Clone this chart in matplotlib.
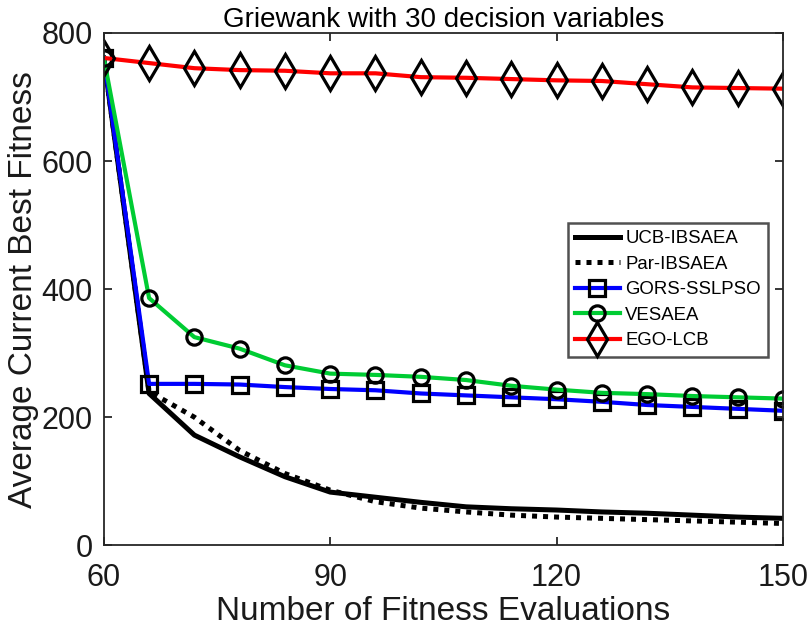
import matplotlib
matplotlib.use("Agg")
from matplotlib import pyplot as plt
import numpy as np

plt.rcParams['font.family'] = ['Liberation Sans', 'DejaVu Sans']

evals = list(range(60, 151, 6))

ucb = [761, 237, 172, 138, 107, 83, 75, 67, 60, 57, 55, 52, 50, 47, 44, 42]
par = [761, 240, 200, 148, 112, 86, 68, 58, 52, 47, 44, 42, 40, 38, 36, 34]
gors = [761, 252, 252, 251, 247, 244, 242, 237, 234, 231, 228, 224, 219, 216, 213, 210]
vesaea = [761, 386, 325, 307, 281, 268, 266, 263, 258, 249, 243, 238, 236, 233, 231, 229]
ego = [761, 753, 745, 742, 741, 737, 737, 731, 730, 728, 726, 725, 720, 715, 714, 713]

edge = '#262626'

fig = plt.figure(figsize=(8.11, 6.34), dpi=100)
ax = fig.add_axes([0.128, 0.140, 0.8375, 0.808])

lw = 3.0
mk = dict(markersize=11, markeredgewidth=2.3, markeredgecolor='black', markerfacecolor='none')
ax.plot(evals, ucb, color='black', lw=3.6, label='UCB-IBSAEA')
ax.plot(evals, par, color='black', lw=3.6, ls=(0, (1, 1.2)), label='Par-IBSAEA')
ax.plot(evals, gors, color='#0000ff', lw=lw, marker='s', label='GORS-SSLPSO', **mk)
ax.plot(evals, vesaea, color='#00cc33', lw=lw, marker='o', label='VESAEA', **mk)
ax.plot(evals, ego, color='#ff0000', lw=lw, marker='d', label='EGO-LCB',
        markersize=17, markeredgewidth=2.3, markeredgecolor='black', markerfacecolor='none')

ax.set_xlim(60, 150)
ax.set_ylim(0, 800)
ax.set_xticks([60, 90, 120, 150])
ax.set_yticks([0, 200, 400, 600, 800])
ax.tick_params(direction='in', length=6, width=1.3, colors=edge, labelcolor='#1a1a1a',
               labelsize=22, top=True, right=True)
ax.tick_params(axis='x', pad=13)
ax.tick_params(axis='y', pad=8)
for s in ax.spines.values():
    s.set_color(edge)
    s.set_linewidth(1.3)

ax.set_xlabel('Number of Fitness Evaluations', fontsize=24, labelpad=2, color='#1a1a1a')
ax.set_ylabel('Average Current Best Fitness', fontsize=24, labelpad=2, color='#1a1a1a')
ax.set_title('Griewank with 30 decision variables', fontsize=20, pad=4)

lgd = ax.legend(loc='upper left', bbox_to_anchor=(0.683, 0.629), fontsize=13.4,
                frameon=True, fancybox=False, edgecolor=edge, handlelength=2.4,
                handletextpad=0.3, borderpad=0.4, labelspacing=0.45, borderaxespad=0)
lgd.get_frame().set_linewidth(1.8)

fig.savefig('out.png', dpi=100)
